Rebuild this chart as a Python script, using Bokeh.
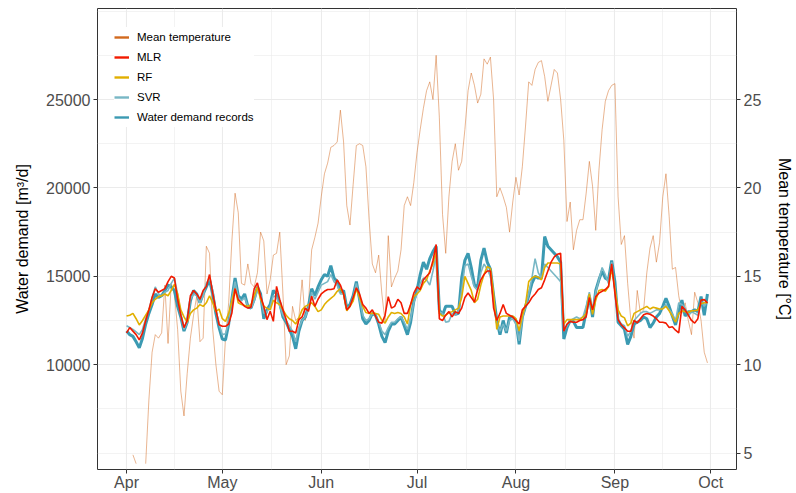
import numpy as np
import pandas as pd
from bokeh.plotting import figure
from bokeh.models import (Range1d, LinearAxis, FixedTicker, Legend, LegendItem,
                          DatetimeTickFormatter)
from bokeh.embed import file_html
from bokeh.resources import INLINE

# ---------------- data ----------------
start_date = "2019-04-01"
end_date = "2019-09-30"
month_starts_str = ["2019-04-01", "2019-05-01", "2019-06-01", "2019-07-01",
                    "2019-08-01", "2019-09-01", "2019-10-01"]
demand_ticks = [10000, 15000, 20000, 25000]
demand_minor = [5000, 7500, 12500, 17500, 22500, 27500, 30000]
temp_ticks = [5, 10, 15, 20, 25]

nan = float("nan")
mean_temperature = [
    nan, nan, 4.9, 4.4, nan, nan, 4.4, 8.0, 10.7, 11.7,
    11.5, 11.8, 14.5, 11.2, 14.6, 14.0, 12.0, 8.5, 7.1, 9.5,
    11.5, 12.8, 13.9, 11.3, 11.5, 16.7, 16.3, 12.0, 10.0, 8.5,
    8.3, 11.5, 13.5, 17.0, 19.7, 18.6, 14.6, 14.5, 15.7, 14.6,
    14.4, 15.2, 17.5, 17.0, 14.0, 14.8, 16.2, 16.3, 17.5, 14.0,
    10.0, 10.5, 13.3, 12.5, 12.7, 14.8, 12.5, 13.5, 16.5, 17.2,
    18.0, 19.5, 20.8, 21.4, 22.3, 22.4, 22.6, 24.4, 22.6, 19.0,
    17.9, 20.2, 22.4, 22.5, 22.4, 21.2, 18.2, 15.7, 15.2, 16.2,
    14.0, 12.4, 17.3, 14.4, 14.9, 15.3, 16.5, 19.0, 19.5, 19.0,
    20.3, 22.0, 23.3, 24.5, 25.5, 26.0, 25.0, 27.5, 24.0, 18.5,
    16.3, 19.5, 21.5, 22.5, 21.0, 21.5, 23.3, 25.5, 26.5, 25.8,
    24.8, 25.3, 27.3, 27.0, 27.4, 25.0, 19.5, 20.0, 19.5, 18.9,
    17.5, 19.2, 20.6, 19.6, 21.2, 23.5, 26.0, 25.8, 26.7, 27.1,
    27.2, 26.3, 24.9, 25.8, 26.7, 26.5, 25.0, 22.7, 18.1, 19.2,
    16.5, 17.6, 18.2, 18.2, 19.7, 21.5, 20.1, 17.6, 21.0, 23.3,
    24.9, 25.5, 25.8, 25.9, 19.5, 16.8, 17.3, 14.6, 12.5, 11.5,
    14.2, 12.9, 13.1, 15.2, 16.6, 17.3, 15.8, 16.9, 19.5, 20.8,
    18.4, 15.4, 15.5, 13.9, 12.9, 13.5, 12.5, 11.7, 14.1, 13.5,
    12.5, 10.7, 10.1,
]

mlr = [
    11800, 12100, 11900, 11700, 11400, 11800, 12500, 13100, 13800, 14300,
    14100, 14200, 14300, 14700, 15000, 14900, 13700, 12800, 12100, 12500,
    13900, 14200, 14000, 13700, 14200,
    14430, 15100, 14050, 13100, 12260, 12170, 12170, 12300, 12920, 14300,
    13680, 13500, 13300, 13200, 13250, 14300, 14620, 13870, 13300, 12550,
    13020, 12450, 14430, 13680, 13110, 12550, 11890, 11890, 11790, 12550,
    12700, 13200, 13020, 13870,
    13300, 13700, 14000, 14150, 14250, 14250, 14300, 14800, 14500, 14000,
    13100, 13300, 13800, 14350, 14000, 13400, 13200, 12900, 13100, 12750,
    12400, 12350, 12800, 13850, 13200, 13300, 13700, 13500, 12900, 12900,
    13400, 14050, 14400, 14250,
    14800, 15000, 15200, 15900, 16800, 12600, 12500, 12800, 13000, 12700,
    13000, 12900, 13200, 13800, 14050, 13800, 13550, 14250, 14800, 15100,
    15300, 15300, 13200, 12500, 12900, 13400, 12900, 12800, 12700, 12500,
    12300, 13100, 13300, 13500, 13800, 14000, 14250, 14350, 14800, 15300,
    15800, 16100, 16250, 16300,
    11900, 12300, 12450, 12400, 12400, 12500, 12550, 12700, 13800, 13100,
    13850, 14050, 14150, 14250, 14430, 15700, 14050, 12550, 12260, 12080,
    11890, 11890,
    12500, 12360, 12600, 12830, 12900, 12850, 12750, 12600, 12400, 12400,
    12350, 12100, 12150, 11950, 11800, 13300, 13100, 12800, 12500, 12350,
    12600, 13650, 13680, 13500,
]

rf = [
    12750, 12800, 12900, 12600, 12250, 12500, 12800, 13100, 13500, 13700,
    13850, 13900, 14000, 13900, 14200, 14550, 14000, 13100, 12700, 12400,
    12900, 13100, 13200, 13400, 13300, 13500, 13900, 13500, 13000,
    13150, 12600, 12450, 12900, 13600, 14300, 13500, 13400, 13350, 13300,
    13400, 13900, 14400, 13700, 13300, 13200, 13100, 13650, 13500, 13400,
    13100, 12800, 12600, 12500, 12300, 12650, 13100, 13300, 13400, 13500,
    13300, 13000, 13100,
    13400, 13600, 13750, 13900, 14150, 14300, 14000, 13050, 13300, 13600,
    14300, 13800, 13300, 12950, 12900, 12900, 12900, 12850, 12500, 12350,
    12700, 12950, 12900, 12950, 12900, 12700, 12300, 13400, 13850, 14000,
    14200, 14600, 14800, 15300, 15700,
    16400, 12900, 12750, 12800, 12950, 13000, 13100, 13200, 13800, 15000,
    14600, 14200, 13500, 13700, 14500, 15100, 15550, 15450, 14000, 12000,
    12700, 12750, 12750, 12750, 12750, 12600, 11900, 12750, 13400, 14700,
    14900, 15000, 14950, 14800,
    15500, 15750, 15750, 15750, 15750, 15700, 12300, 12550, 12550, 12550,
    12550, 12550, 12700, 12900, 14000, 12850, 13650, 14200, 14250, 14150,
    14400, 15450, 14300, 13100, 12750, 12650, 12200, 12350, 12900, 13000,
    13100, 13200, 13300, 13150,
    13250, 13200, 13150, 13150, 13300, 13050, 12750, 12400, 12900, 13050,
    13000, 12950, 13050, 13050, 13100, 13450, 13500, 13500,
]

svr = [
    12200, 12100, 12000, 11850, 11700, 12000, 12600, 13100, 13800, 14400,
    14000, 13900, 14100, 14200, 14600, 14900, 14000, 12800, 12000, 12400,
    13700, 14000, 13900, 13500, 13900, 14600, 14900, 14200, 13100,
    12300, 11700, 11750, 12400, 13700, 14700, 13800, 13600, 13800, 13300,
    13200, 13600, 14200, 13900, 12900, 13000, 13300, 13900, 13800, 13300,
    12800, 12500, 12200, 11900, 11300, 12100, 12500, 12700, 13200, 14100,
    13700, 14100, 14500,
    14600, 14700, 15100, 14700, 14500, 14000, 14000, 13200, 13300, 13800,
    14600, 13700, 12800, 12500, 12600, 12900, 12800, 12400, 11900, 11700,
    12100, 12400, 12400, 12600, 12700, 12400, 12000, 12600, 13500, 14000,
    14600, 14900, 14800, 14500, 15300,
    16200, 13000, 12900, 12400, 12450, 12900, 12800, 13000, 14200, 15600,
    15700, 15000, 14400, 14200, 15200, 15700, 15400, 15000, 13600, 12300,
    11900, 12300, 11900, 12500, 12600, 12300, 11350, 12600, 13300, 14000,
    14900, 16000, 15200, 14900,
    15700, 15500, 15300, 15100, 14900, 14700, 11900, 12200, 12500, 12600,
    12700, 12600, 12700, 13300, 14100, 13000, 14100, 14800, 15500, 15100,
    14600, 15800, 14200, 12600, 12300, 12200, 11600, 11900, 12500, 12700,
    12900, 13000, 13000, 12900,
    13000, 13100, 13100, 13200, 13400, 13100, 12900, 12450, 13500, 13400,
    13200, 12750, 13000, 12900, 12800, 13600, 13300, 13600,
]

records = [
    11900, 11700, 11600, 11300, 10950, 11500, 12300, 12900, 13400, 14000,
    13800, 13900, 14200, 14500, 14400, 14200, 13300, 12700, 11900, 12400,
    13600, 14200, 14000, 13500, 14000, 14400, 14800, 14000, 12900, 12100,
    11450, 11400, 12300, 13700, 14900, 13900, 13700, 14000, 13300, 13200,
    13700, 14400, 14000, 12600, 13100, 13400, 14200, 14000, 13500, 12700,
    12400, 12000, 11600, 10900, 11900, 12500, 12700, 13300, 14300, 13900,
    14400, 14800, 15100, 15000, 15600, 14900, 14700, 14100, 14200, 13200,
    13400, 13900, 14700, 13700, 12600, 12300, 12500, 12900, 12800, 12300,
    11600, 11250, 11900, 12300, 12300, 12500, 12700, 12200, 11700, 12400,
    13600, 14200, 15100, 15800, 15400, 16000, 16400, 16700, 13100, 12800,
    13300, 13300, 13300, 12850, 12900, 14900, 15900, 16300, 15500, 14500,
    14400, 15900, 16600, 15800, 15400, 13900, 12500, 11700, 12500, 11800,
    12700, 12700, 12500, 11150, 12700, 13300, 13900, 14600, 15000, 14900,
    14900, 17250, 16700, 16500, 16300, 16100, 15800, 11450, 12100, 12500,
    12450, 12100, 12100, 12100, 13000, 13900, 12700, 14200, 14800, 15300,
    14900, 14800, 15900, 14700, 12400, 12200, 12000, 11150, 11600, 12300,
    12400, 12500, 12700, 12600, 12100, 12350, 12700, 12900, 13300, 13750,
    13300, 12750, 12250, 13000, 13650, 12750, 13000, 13000, 13100, 13000,
    13850, 12800, 14000,
]

dates = pd.date_range(start_date, end_date, freq="D")
for name, arr in [("temp", mean_temperature), ("mlr", mlr), ("rf", rf),
                  ("svr", svr), ("records", records)]:
    assert len(arr) == len(dates), (name, len(arr), len(dates))

# ---------------- styling ----------------
FONT = "Liberation Sans"
C_TEMP = "#D2691E"
C_MLR = "#F21A00"
C_RF = "#E1AF00"
C_SVR = "#78B7C5"
C_REC = "#3B9AB2"
GRID = "#EBEBEB"

def ms(t):
    return pd.Timestamp(t).value / 1e6

major_x = [ms(t) for t in month_starts_str]
minor_x = [(a + b) / 2 for a, b in zip(major_x[:-1], major_x[1:])]

pad = pd.Timedelta(days=9.1)
W, H = 796, 493
B_LEFT, B_RIGHT, B_TOP, B_BOTTOM = 97, 55, 8, 23

p = figure(width=W, height=H, x_axis_type="datetime",
           x_range=Range1d(dates[0] - pad, dates[-1] + pad),
           y_range=Range1d(4070, 30150),
           output_backend="svg", toolbar_location=None,
           min_border_left=B_LEFT, min_border_right=B_RIGHT,
           min_border_top=B_TOP, min_border_bottom=B_BOTTOM)
p.extra_y_ranges = {"temp": Range1d(4.07, 30.15)}
p.background_fill_color = "white"
p.border_fill_color = "white"
p.outline_line_color = "#333333"
p.outline_line_width = 1

xt = FixedTicker(ticks=major_x, minor_ticks=minor_x)
p.xaxis.ticker = xt
p.xgrid.ticker = xt
p.xaxis.formatter = DatetimeTickFormatter(months="%b", days="%b", hours="%b",
                                          years="%b", context=None)
yt = FixedTicker(ticks=demand_ticks, minor_ticks=demand_minor)
p.yaxis.ticker = yt
p.ygrid.ticker = yt
p.yaxis.axis_label = "Water demand [m³/d]"

for g in (p.xgrid, p.ygrid):
    g.grid_line_color = GRID
    g.grid_line_width = 1.1
    g.minor_grid_line_color = GRID
    g.minor_grid_line_width = 0.6

right_axis = LinearAxis(y_range_name="temp", ticker=FixedTicker(ticks=temp_ticks),
                        axis_label="Mean temperature [°C]")
p.add_layout(right_axis, "right")

for ax in p.xaxis + p.yaxis + [right_axis]:
    ax.axis_line_color = None
    ax.major_tick_line_color = "#333333"
    ax.major_tick_out = 4
    ax.major_tick_in = 0
    ax.minor_tick_line_color = None
    ax.major_label_text_font = FONT
    ax.major_label_text_font_size = "16px"
    ax.major_label_text_color = "#4D4D4D"
    ax.major_label_standoff = 3
    ax.axis_label_text_font = FONT
    ax.axis_label_text_font_size = "16px"
    ax.axis_label_text_font_style = "normal"
    ax.axis_label_text_color = "black"
p.xaxis.major_label_standoff = 0
p.yaxis[0].axis_label_standoff = 12
right_axis.axis_label_standoff = 12

# ---------------- series ----------------
p.line(dates, mean_temperature, y_range_name="temp", line_color=C_TEMP,
       line_width=0.8, line_alpha=0.62)
p.line(dates, records, line_color=C_REC, line_width=3)
p.line(dates, svr, line_color=C_SVR, line_width=1.6)
p.line(dates, rf, line_color=C_RF, line_width=1.6)
p.line(dates, mlr, line_color=C_MLR, line_width=1.6)

# legend keys (renderers holding a single empty point, so only the key shows)
labels = ["Mean temperature", "MLR", "RF", "SVR", "Water demand records"]
colors = [C_TEMP, C_MLR, C_RF, C_SVR, C_REC]
items = []
for lab, col in zip(labels, colors):
    r = p.line(x=[dates[0]], y=[nan], line_color=col, line_width=2.4)
    items.append(LegendItem(label=lab, renderers=[r]))

frame_h = H - B_TOP - B_BOTTOM
legend_h = 2 * 10 + 5 * 20
legend = Legend(items=items, location=(17, frame_h - legend_h))
legend.padding = 10
legend.spacing = 0
legend.margin = 0
legend.label_height = 20
legend.glyph_height = 20
legend.glyph_width = 15
legend.label_standoff = 8
legend.label_text_font = FONT
legend.label_text_font_size = "11.5px"
legend.label_text_color = "black"
legend.background_fill_color = "white"
legend.background_fill_alpha = 1
legend.border_line_color = None
p.add_layout(legend)

open("out.html", "w").write(file_html(p, INLINE))
